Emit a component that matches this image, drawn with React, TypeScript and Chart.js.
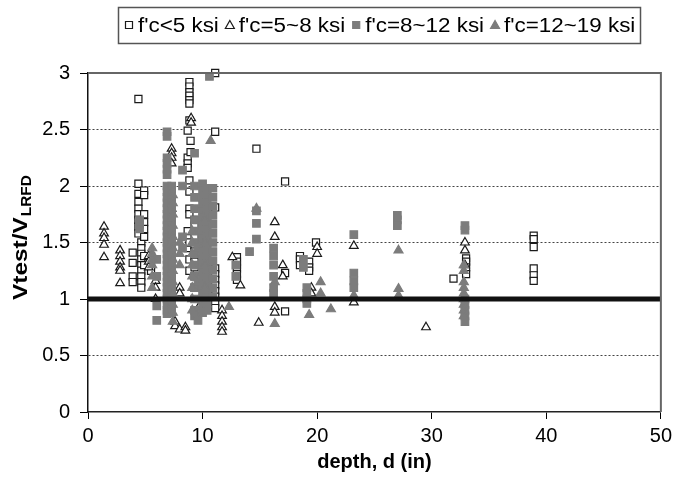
import React, { useEffect, useRef } from 'react';
import { Chart, registerables } from 'chart.js';
Chart.register(...registerables);

const FONT = '"Liberation Sans", Arial, Helvetica, sans-serif';

const xTickValues = [0, 10, 20, 30, 40, 50];
const yTickValues = [0, 0.5, 1, 1.5, 2, 2.5, 3];
const seriesLabels = ["f'c<5 ksi", "f'c=5~8 ksi", "f'c=8~12 ksi", "f'c=12~19 ksi"];
const referenceLevel = 1;

// columns: [depth, [Vtest/VLRFD values ...]]
const lowStrength: [number, number[]][] = [
  [3.9, [1.41, 1.32, 1.2, 1.15]],
  [4.4, [2.77, 2.02, 1.93, 1.86, 1.8, 1.75, 1.7, 1.64, 1.58]],
  [4.65, [1.5, 1.45, 1.4, 1.35, 1.3, 1.25, 1.2, 1.15, 1.1]],
  [4.9, [1.96, 1.92, 1.75, 1.68, 1.62, 1.55, 1.38, 1.3]],
  [5.5, [1.38, 1.3, 1.25]],
  [8.7, [2.49, 2.25, 2.2, 2.16, 1.6, 1.45]],
  [8.85, [2.92, 2.88, 2.83, 2.8, 2.76, 2.73, 2.58, 2.05, 1.95, 1.8, 1.75, 1.5, 1.35, 1.25]],
  [8.95, [2.4, 2.3]],
  [9.3, [1.7, 1.65, 1.55, 1.48, 1.42, 1.38, 1.33, 1.28, 1.2, 1.1]],
  [11.1, [3.0, 2.48, 1.81, 1.27, 1.22, 1.17, 1.12, 1.07, 1.02, 0.97, 0.92]],
  [13.0, [1.37, 1.33, 1.3, 1.27, 1.22, 1.17]],
  [14.7, [2.33]],
  [17.2, [2.04, 1.23, 0.89]],
  [18.5, [1.38, 1.35, 1.3]],
  [19.3, [1.33, 1.28, 1.25]],
  [19.9, [1.5]],
  [31.9, [1.18]],
  [33.0, [1.36, 1.33, 1.28, 1.22]],
  [38.9, [1.56, 1.53, 1.46, 1.27, 1.21, 1.16]],
];

const midStrength: [number, number[]][] = [
  [1.4, [1.64, 1.58, 1.54, 1.48, 1.37]],
  [2.8, [1.43, 1.38, 1.33, 1.28, 1.25, 1.14]],
  [5.3, [1.38, 1.33, 1.28]],
  [5.9, [1.16, 1.1, 1.0]],
  [7.3, [2.33, 2.29, 2.25, 2.2, 1.85, 1.8]],
  [7.6, [0.8, 0.76]],
  [8.0, [1.1, 1.05, 0.73]],
  [8.5, [0.75, 0.72]],
  [9.0, [2.6, 2.56]],
  [9.8, [1.4, 1.2, 0.95]],
  [11.7, [0.9, 0.85, 0.8, 0.75, 0.71]],
  [12.6, [1.37]],
  [13.3, [1.12]],
  [14.9, [0.79]],
  [16.3, [1.68, 1.55, 0.93, 0.88]],
  [17.0, [1.3, 1.2]],
  [19.5, [1.1, 1.05]],
  [20.0, [1.46, 1.4]],
  [23.2, [1.47, 0.97]],
  [29.5, [0.75]],
  [32.9, [1.5, 1.43, 1.3]],
];

const highStrength: [number, number[]][] = [
  [4.5, [1.7, 1.66, 1.62]],
  [6.0, [1.35, 1.2, 0.94, 0.81]],
  [6.9, [2.48, 2.44, 2.25, 2.2, 2.15, 2.1, 2.0, 1.95, 1.9, 1.85, 1.8, 1.75, 1.7, 1.65, 1.6, 1.55, 1.5, 1.45, 1.4, 1.35, 1.3, 1.25, 1.2, 1.15, 1.1, 1.05, 1.0, 0.95, 0.9, 0.87]],
  [7.3, [2.0, 1.93, 1.86, 1.79, 1.72, 1.65, 1.58, 1.51, 1.44, 1.37, 1.3, 1.23, 1.16, 1.09, 1.02, 0.95, 0.88]],
  [8.25, [2.14, 2.0, 1.55, 1.45]],
  [9.3, [2.29, 2.0, 1.9, 1.8, 1.7, 1.6, 1.5, 1.4, 1.3, 1.2, 1.1, 1.0, 0.9, 0.85]],
  [9.6, [0.81, 1.45, 1.15]],
  [10.0, [2.02, 1.96, 1.9, 1.84, 1.78, 1.72, 1.66, 1.6, 1.54, 1.48, 1.42, 1.36, 1.3, 1.24, 1.18, 1.12, 1.06, 1.0, 0.94, 0.88]],
  [10.4, [1.98, 1.92, 1.86, 1.8, 1.74, 1.68, 1.62, 1.56, 1.5, 1.44, 1.38, 1.32, 1.26, 1.2, 1.14, 1.08, 1.02, 0.96, 0.9]],
  [10.6, [2.97]],
  [10.9, [1.98, 1.9, 1.82, 1.74, 1.66, 1.58, 1.5, 1.42, 1.34, 1.26, 1.18, 1.1, 1.02]],
  [12.9, [1.3, 1.2]],
  [14.1, [1.42]],
  [14.7, [1.78, 1.67, 1.53]],
  [16.2, [1.45, 1.38, 1.3, 1.2, 1.1, 1.05]],
  [18.8, [1.35, 1.28]],
  [19.1, [1.1, 1.05, 1.0, 0.96]],
  [23.2, [1.57, 1.23, 1.16, 1.1]],
  [27.0, [1.74, 1.7, 1.65]],
  [32.9, [1.65, 1.61, 1.0, 0.95, 0.9, 0.85, 0.8]],
];

const veryHighStrength: [number, number[]][] = [
  [5.6, [1.45, 1.4, 1.35, 1.3, 1.2, 1.1]],
  [7.4, [1.92, 1.85, 1.75, 1.65, 1.55, 1.45, 1.35, 1.25, 1.15, 1.05, 0.95, 0.88, 0.8]],
  [8.0, [1.5, 1.4, 1.3]],
  [9.1, [1.6, 1.5, 1.4, 1.3, 1.2, 1.1, 1.0, 0.9]],
  [10.2, [1.7, 1.5, 1.3, 1.1]],
  [10.7, [2.4]],
  [12.3, [0.93]],
  [14.7, [1.8]],
  [16.3, [1.15, 0.78]],
  [19.3, [0.86]],
  [20.3, [1.15, 1.05]],
  [21.2, [0.91]],
  [23.2, [1.03]],
  [27.1, [1.43, 1.09, 1.03]],
  [32.8, [1.3, 1.25, 1.15, 1.1, 1.05, 1.0, 0.95, 0.9, 0.85]],
];

const toPoints = (cols: [number, number[]][]) =>
  cols.flatMap(([x, ys]) => ys.map((y) => ({ x, y })));

const GRAY = '#7c7c7c';
const DARK = '#1a1a1a';

const markerStyles = [
  { shape: 'rect', fill: '#ffffff', stroke: DARK, r: 5 },
  { shape: 'triangle', fill: '#ffffff', stroke: DARK, r: 5 },
  { shape: 'rect', fill: GRAY, stroke: GRAY, r: 5.3 },
  { shape: 'triangle', fill: GRAY, stroke: GRAY, r: 5.2 },
];

const decorPlugin = {
  id: 'decor',
  afterDraw(chart: any) {
    const { ctx, chartArea } = chart;
    ctx.save();
    // frame top & right
    ctx.strokeStyle = '#666';
    ctx.lineWidth = 2;
    ctx.beginPath();
    ctx.moveTo(chartArea.left, chartArea.top);
    ctx.lineTo(chartArea.right, chartArea.top);
    ctx.lineTo(chartArea.right, chartArea.bottom);
    ctx.stroke();

    // legend box
    ctx.strokeStyle = '#555';
    ctx.lineWidth = 1.5;
    ctx.strokeRect(118.5, 7.5, 522, 36);
    const cy = 25;
    ctx.font = '20px ' + FONT;
    ctx.textBaseline = 'middle';
    ctx.textAlign = 'left';
    ctx.fillStyle = '#000';
    const sx = 1.12;
    let x = 125;
    seriesLabels.forEach((label, i) => {
      const m = markerStyles[i];
      const mx = x + 4;
      ctx.lineWidth = 1.2;
      ctx.strokeStyle = m.stroke;
      ctx.fillStyle = m.fill;
      ctx.beginPath();
      if (m.shape === 'rect') {
        ctx.rect(mx - 3.5, cy - 3.5, 7, 7);
      } else {
        ctx.moveTo(mx, cy - 4.5);
        ctx.lineTo(mx + 4.5, cy + 3.5);
        ctx.lineTo(mx - 4.5, cy + 3.5);
        ctx.closePath();
      }
      ctx.fill();
      ctx.stroke();
      x += 13;
      ctx.fillStyle = '#000';
      ctx.save();
      ctx.translate(x, cy + 1);
      ctx.scale(sx, 1);
      ctx.fillText(label, 0, 0);
      ctx.restore();
      x += ctx.measureText(label).width * sx + 7;
    });

    // y axis title with subscript
    ctx.save();
    ctx.translate(27, 300);
    ctx.rotate(-Math.PI / 2);
    ctx.fillStyle = '#000';
    ctx.textBaseline = 'alphabetic';
    ctx.font = 'bold 20px ' + FONT;
    const main = 'Vtest/V';
    const stretch = 1.22;
    ctx.save();
    ctx.scale(stretch, 1);
    ctx.fillText(main, 0, 0);
    ctx.restore();
    const w = ctx.measureText(main).width * stretch;
    ctx.font = 'bold 14px ' + FONT;
    ctx.save();
    ctx.translate(w + 1, 4);
    ctx.scale(1.1, 1);
    ctx.fillText('LRFD', 0, 0);
    ctx.restore();
    ctx.restore();

    ctx.restore();
  },
};

export default function App() {
  const ref = useRef<HTMLCanvasElement>(null);
  useEffect(() => {
    document.body.style.margin = '0';
    const canvas = ref.current!;
    const mk = (i: number, cols: [number, number[]][]) => ({
      type: 'scatter' as const,
      label: seriesLabels[i],
      data: toPoints(cols),
      pointStyle: markerStyles[i].shape,
      pointRadius: markerStyles[i].r,
      pointHoverRadius: markerStyles[i].r,
      pointBackgroundColor: markerStyles[i].fill,
      pointBorderColor: markerStyles[i].stroke,
      pointBorderWidth: 1.2,
      backgroundColor: markerStyles[i].fill,
      borderColor: markerStyles[i].stroke,
      order: 4 - i,
      clip: false as any,
    });
    const chart = new Chart(canvas, {
      type: 'scatter',
      data: {
        datasets: [
          mk(0, lowStrength),
          mk(1, midStrength),
          mk(2, highStrength),
          mk(3, veryHighStrength),
          {
            type: 'line',
            label: 'ref',
            data: [
              { x: xTickValues[0], y: referenceLevel },
              { x: xTickValues[xTickValues.length - 1], y: referenceLevel },
            ],
            borderColor: '#111',
            borderWidth: 5,
            pointRadius: 0,
            showLine: true,
            order: 0,
            clip: false as any,
          } as any,
        ],
      },
      options: {
        responsive: false,
        animation: false,
        events: [],
        layout: { padding: { top: 73, right: 13, left: 0, bottom: 0 } },
        plugins: {
          legend: { display: false },
          tooltip: { enabled: false },
          title: { display: false },
        },
        scales: {
          x: {
            type: 'linear',
            min: xTickValues[0],
            max: xTickValues[xTickValues.length - 1],
            afterFit: (s: any) => { s.height = 73; },
            afterBuildTicks: (s: any) => { s.ticks = xTickValues.map((v) => ({ value: v })); },
            ticks: {
              color: '#000',
              font: { family: FONT, size: 20 },
              padding: 5,
              maxRotation: 0,
              callback: (v: any) => String(v),
            },
            grid: {
              drawOnChartArea: false,
              drawTicks: true,
              tickLength: 7,
              tickColor: '#000',
              color: '#000',
            },
            border: { display: true, color: '#222', width: 1.5 },
            title: {
              display: true,
              text: 'depth, d (in)',
              color: '#000',
              font: { family: FONT, size: 20, weight: 'bold' },
              padding: { top: 0, bottom: 11 },
            },
          },
          y: {
            type: 'linear',
            min: yTickValues[0],
            max: yTickValues[yTickValues.length - 1],
            afterFit: (s: any) => { s.width = 88; },
            afterBuildTicks: (s: any) => { s.ticks = yTickValues.map((v) => ({ value: v })); },
            ticks: {
              color: '#000',
              font: { family: FONT, size: 20 },
              padding: 10,
              callback: (v: any) => String(v),
            },
            grid: {
              drawOnChartArea: true,
              drawTicks: true,
              tickLength: 8,
              tickColor: '#000',
              lineWidth: 1,
              color: (c: any) =>
                c.tick && [0.5, 1.5, 2, 2.5].includes(c.tick.value) ? '#444' : 'rgba(0,0,0,0)',
            },
            border: { display: true, color: '#111', width: 1.5, dash: [2, 2] },
          },
        },
      },
      plugins: [decorPlugin],
    } as any);
    return () => chart.destroy();
  }, []);
  return <canvas ref={ref} width={677} height={485} style={{ display: 'block' }} />;
}
